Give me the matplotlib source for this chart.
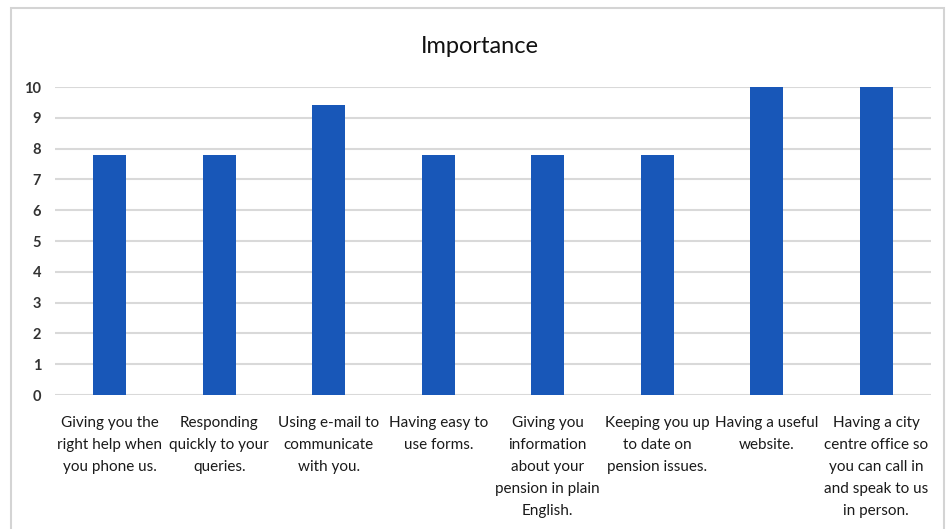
import matplotlib.pyplot as plt
from matplotlib.patches import Rectangle

# survey items and their importance scores
categories = [
    "Giving you the\nright help when\nyou phone us.",
    "Responding\nquickly to your\nqueries.",
    "Using e-mail to\ncommunicate\nwith you.",
    "Having easy to\nuse forms.",
    "Giving you\ninformation\nabout your\npension in plain\nEnglish.",
    "Keeping you up\nto date on\npension issues.",
    "Having a useful\nwebsite.",
    "Having a city\ncentre office so\nyou can call in\nand speak to us\nin person.",
]
scores = [7.8, 7.8, 9.4, 7.8, 7.8, 7.8, 10, 10]
yticks = list(range(0, 11))

plt.rcParams['font.family'] = ['Lato', 'DejaVu Sans']

fig = plt.figure(figsize=(9.49, 5.29), dpi=100)
ax = fig.add_axes([0.058, 0.2533, 0.923, 0.5822])

# light frame around the whole chart
fig.patches.append(Rectangle((0.012, -0.05), 0.983, 1.035, transform=fig.transFigure,
                             fill=False, edgecolor='#d4d4d4', linewidth=1.5))

x = range(len(categories))
ax.bar(x, scores, width=0.3, color='#1857b8', zorder=3)

ax.set_xlim(-0.5, len(categories) - 0.5)
ax.set_ylim(0, 10)
ax.set_yticks(yticks)
ax.set_yticklabels([str(t) for t in yticks], fontsize=10.5, fontweight='bold', color='#333333')
ax.set_xticks(list(x))
ax.set_xticklabels(categories, fontsize=11, color='#1a1a1a', linespacing=1.72, va='top')
ax.tick_params(axis='both', length=0)
ax.tick_params(axis='y', pad=10)
ax.tick_params(axis='x', pad=15)

ax.grid(axis='y', color='#d9d9d9', linewidth=1.5, zorder=0)
for s in ax.spines.values():
    s.set_visible(False)

fig.text(0.506, 0.913, "Importance", ha='center', va='center', fontsize=17, color='#111111')

fig.savefig('out.png', dpi=100)
